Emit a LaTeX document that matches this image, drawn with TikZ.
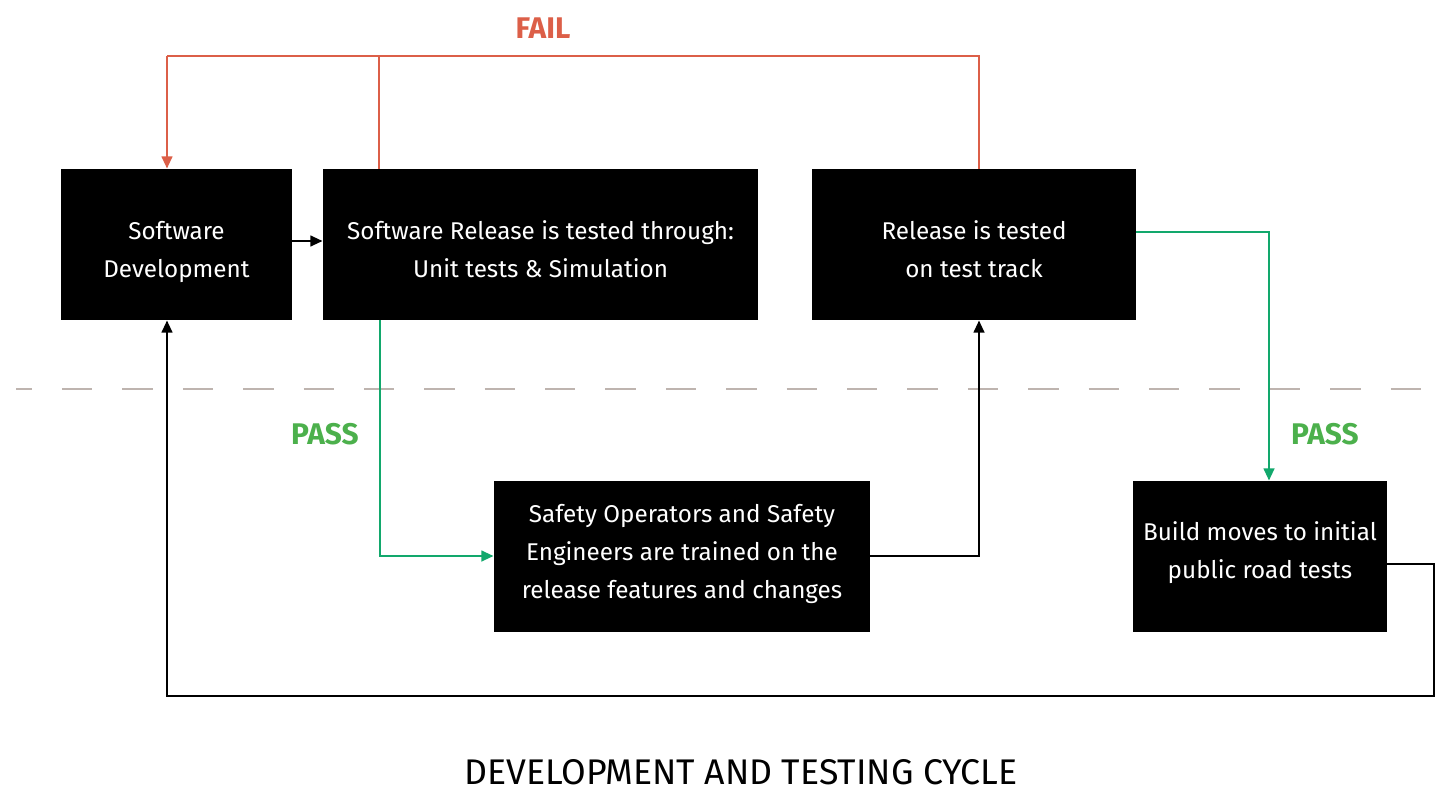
\documentclass[tikz,border=0pt]{standalone}
\usepackage{fontspec}
\setmainfont{Fira Sans}
\usetikzlibrary{arrows.meta}
\definecolor{failred}{HTML}{DC5F48}
\definecolor{passgreen}{HTML}{12A86C}
\definecolor{passlabel}{HTML}{4CB04C}
\definecolor{dashgray}{HTML}{BEB4AF}
\newcommand{\boxtext}[2]{\raisebox{#1}[\height][\depth]{\begin{tabular}{@{}c@{}}#2\end{tabular}}}
\begin{document}
\begin{tikzpicture}[x=0.02cm,y=-0.02cm,
  box/.style={fill=black,text=white,inner sep=0pt,align=center,
    font=\fontsize{13.8}{21.8}\selectfont},
  conn/.style={line width=1.5pt,-{Triangle[length=7pt,width=6pt]}},
  plain/.style={line width=1.5pt},
  lbl/.style={font=\fontsize{17}{19}\selectfont\bfseries}]
\useasboundingbox (0,0) rectangle (1451,791);
\node[box,minimum width=231*0.02cm,minimum height=151*0.02cm] (sd) at (176.5,244.5) {\boxtext{-0.12cm}{Software\\Development}};
\node[box,minimum width=435*0.02cm,minimum height=151*0.02cm] (sr) at (540.5,244.5) {\boxtext{-0.12cm}{Software Release is tested through:\\Unit tests \& Simulation}};
\node[box,minimum width=324*0.02cm,minimum height=151*0.02cm] (tt) at (974,244.5) {\boxtext{-0.12cm}{Release is tested\\on test track}};
\node[box,minimum width=376*0.02cm,minimum height=151*0.02cm] (so) at (682,556) {\boxtext{0.06cm}{Safety Operators and Safety\\Engineers are trained on the\\release features and changes}};
\node[box,minimum width=254*0.02cm,minimum height=151*0.02cm] (bm) at (1260,556.5) {\boxtext{0.1cm}{Build moves to initial\\public road tests}};
\coordinate (ftop1) at (167,56);
\coordinate (ftop2) at (379,56);
\coordinate (ftop3) at (979,56);
\coordinate (rcorner) at (1434,564);
\coordinate (bcorner) at (1434,696);
\draw[dashgray,line width=1.4pt,dash pattern=on 0.608cm off 0.6cm,dash phase=0.288cm] (16,389) coordinate (dl) -- (1424,389) coordinate (dr);
% fail
\draw[plain,failred] (sr.north -| ftop2) -- (ftop2);
\draw[plain,failred] (tt.north -| ftop3) -- (ftop3) -- (ftop1);
\draw[conn,failred] (ftop1) -- (sd.north -| ftop1);
% black
\draw[conn] (sd.east |- 0,241) -- (sr.west |- 0,241);
% green pass
\draw[conn,passgreen] (sr.south -| 380,0) |- (so.west);
\draw[conn] (so.east) -| (tt.south -| ftop3);
\draw[conn,passgreen] (tt.east |- 0,232) -| (bm.north -| 1269,0);
\draw[conn] (bm.east |- rcorner) -- (rcorner) -- (bcorner) -| (sd.south -| ftop1);
% labels
\node[lbl,text=failred] (fail) at (543,28) {FAIL};
\node[lbl,text=passlabel] (pass1) at (325,434) {PASS};
\node[lbl,text=passlabel] (pass2) at (1325,434) {PASS};
\node[inner sep=0pt,font=\fontsize{20.3}{22}\selectfont] (title) at (741,772) {DEVELOPMENT AND TESTING CYCLE};
\end{tikzpicture}
\end{document}
